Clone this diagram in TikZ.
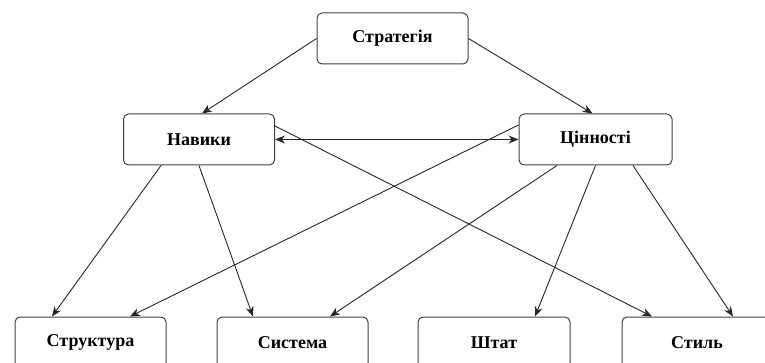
\documentclass[tikz,border=0pt]{standalone}
\usepackage{fontspec}
\setmainfont{Liberation Serif}
\usetikzlibrary{arrows.meta}
\begin{document}
\begin{tikzpicture}[x=1pt,y=-1pt,
  box/.style={draw=black!75, line width=1pt, rounded corners=5pt, fill=white,
    minimum width=151pt, minimum height=51pt, inner sep=0pt,
    font=\fontsize{18}{21}\selectfont\bfseries},
  link/.style={draw=black!85, line width=0.9pt, -{Stealth[length=10pt,width=8pt]}},
  both/.style={draw=black!85, line width=0.9pt, {Stealth[length=10pt,width=8pt]}-{Stealth[length=10pt,width=8pt]}}]
\useasboundingbox (0,0) rectangle (765,363);
\clip (0,0) rectangle (765,363);
% top level
\node[box] (strat) at (392.5,38.5) {Стратегія};
% middle level
\node[box] (nav) at (199,139.5) {Навики};
\node[box, minimum width=153pt] (cin) at (595.5,139.5) {Цінності};
% bottom level
\node[box] (str) at (90.5,342.5) {Структура};
\node[box] (sys) at (292.5,342.5) {Система};
\node[box, minimum width=152pt] (sht) at (494,342.5) {Штат};
\node[box, minimum width=150pt] (stl) at (697,342.5) {Стиль};
% connectors
\draw[link] (strat.west) -- ([xshift=3pt]nav.north);
\draw[link] (strat.east) -- ([xshift=-3pt]cin.north);
\draw[both] (nav.east) -- (cin.west);
\draw[link] ([xshift=-38pt]nav.south) -- ([xshift=-38.5pt]str.north);
\draw[link] (nav.south) -- ([xshift=-39.5pt]sys.north);
\draw[link] ([yshift=13.5pt]nav.east) -- ([xshift=-45pt]stl.north);
\draw[link] ([yshift=14.5pt]cin.west) -- ([xshift=39.5pt]str.north);
\draw[link] ([xshift=-38.5pt]cin.south) -- ([xshift=37.5pt]sys.north);
\draw[link] (cin.south) -- ([xshift=41pt]sht.north);
\draw[link] ([xshift=37.5pt]cin.south) -- ([xshift=36pt]stl.north);
\end{tikzpicture}
\end{document}
